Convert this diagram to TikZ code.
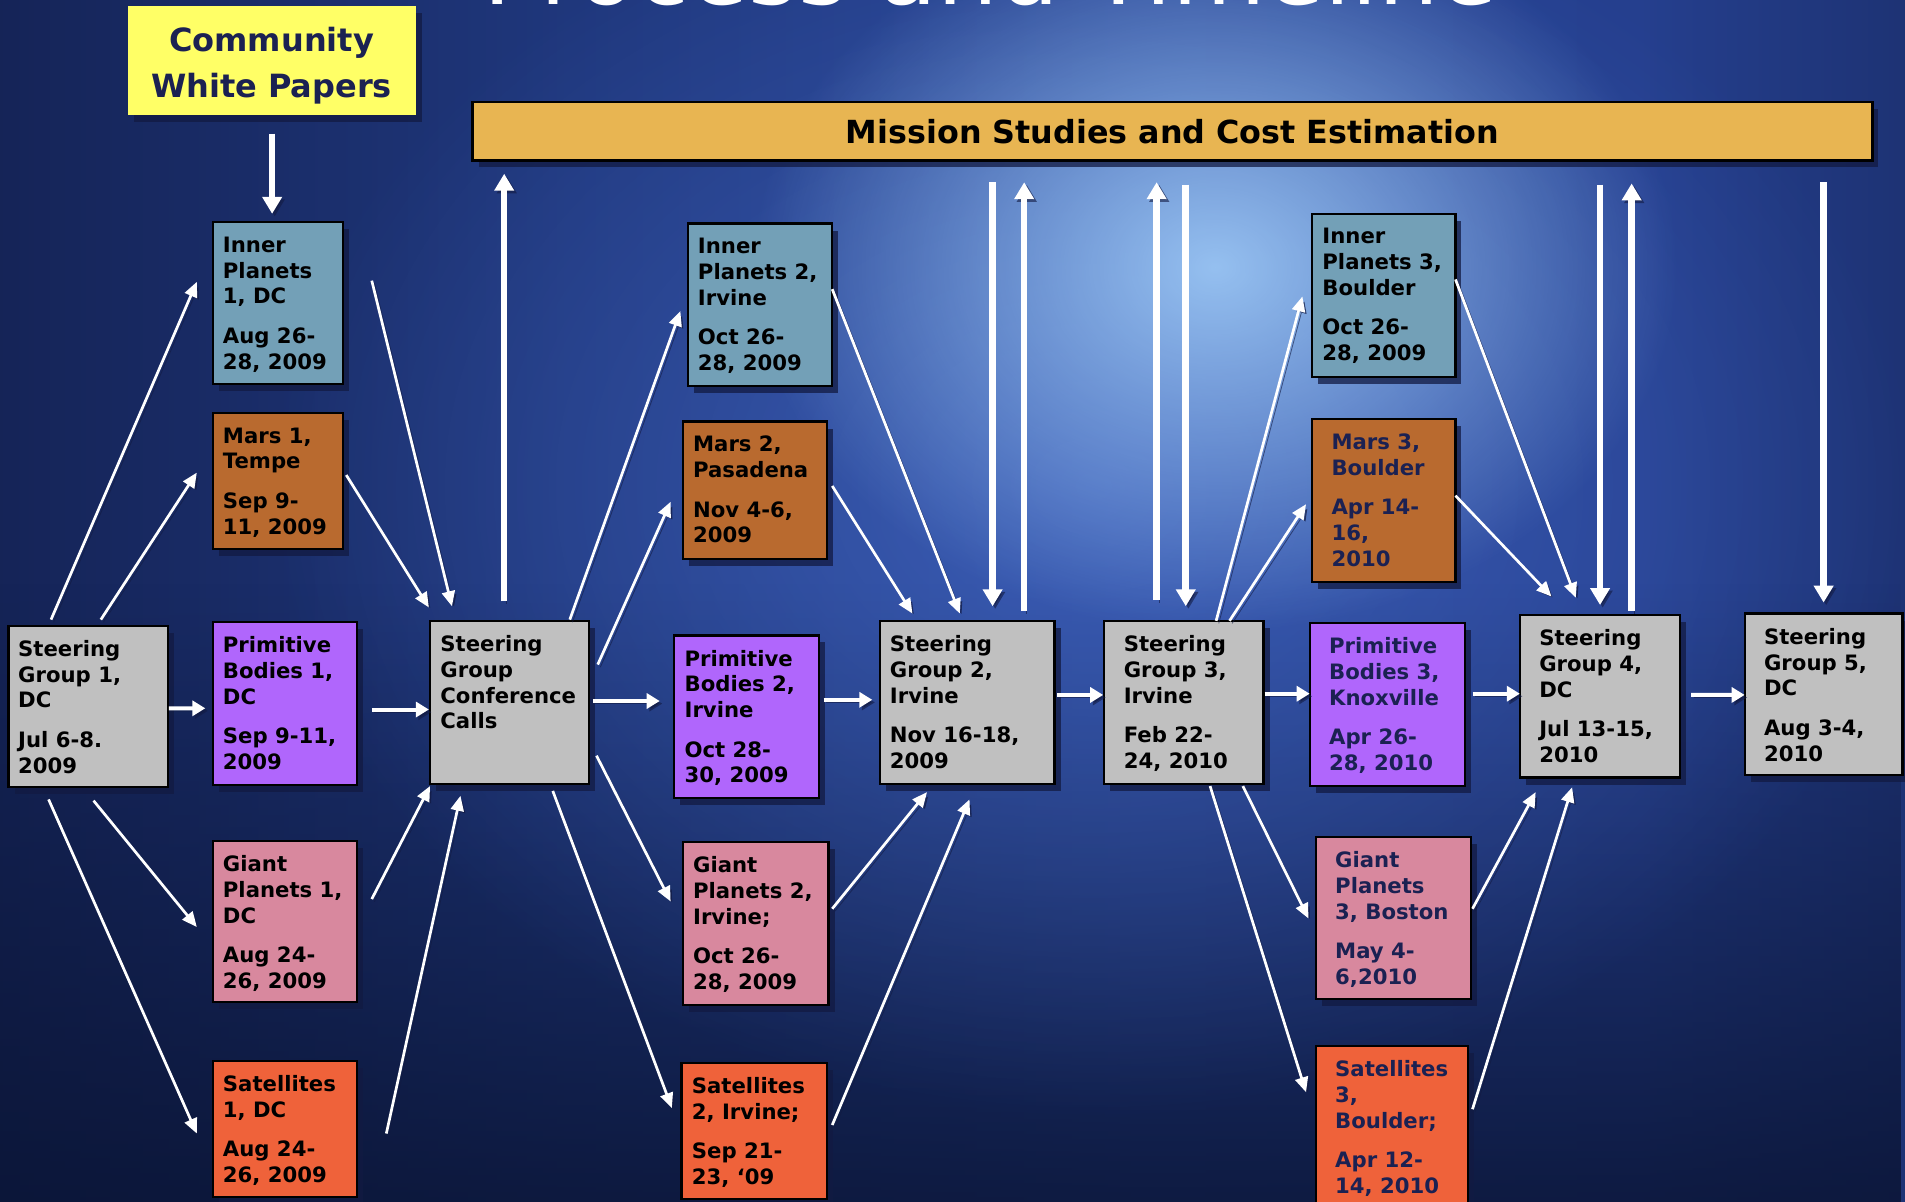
\documentclass[tikz,border=0pt]{standalone}
\usepackage{fontspec}
\setmainfont{DejaVu Sans}
\usetikzlibrary{arrows.meta,shadows,fit,calc,fadings}

\definecolor{ipc}{HTML}{73A0B7}
\definecolor{marsc}{HTML}{B96A2F}
\definecolor{pbc}{HTML}{B066FC}
\definecolor{gpc}{HTML}{D8889E}
\definecolor{satc}{HTML}{EF623A}
\definecolor{sgc}{HTML}{C0C0C0}
\definecolor{cwpc}{HTML}{FFFF66}
\definecolor{msc}{HTML}{E8B552}
\definecolor{navyc}{HTML}{1B2152}
\definecolor{shadowc}{HTML}{121A42}
\definecolor{bgA}{HTML}{020409}
\definecolor{bgB}{HTML}{050A1E}
\definecolor{bgC}{HTML}{132050}
\definecolor{bgD}{HTML}{1F377C}
\definecolor{bgE}{HTML}{274392}
\definecolor{bgF}{HTML}{253F8E}
\definecolor{bgG}{HTML}{182A62}
\definecolor{bgH}{HTML}{0B1438}
\definecolor{bgI}{HTML}{050A1C}
\definecolor{bgbottom}{HTML}{0A1434}
\definecolor{glowA}{HTML}{4A70D0}
\definecolor{glowB}{HTML}{A0CCF8}

\pgfdeclarehorizontalshading{bgh}{100bp}{color(0bp)=(bgA); color(8bp)=(bgB); color(22bp)=(bgC); color(40bp)=(bgD); color(55bp)=(bgE); color(68bp)=(bgF); color(80bp)=(bgG); color(92bp)=(bgH); color(100bp)=(bgI)}
\tikzfading[name=glowfade, inner color=transparent!0, outer color=transparent!100]

\newcommand\mkbox[9]{%
  \node[box, fill=#2, fit={(#3,#4) (#5,#6)}] (#1) {};
  \node[txt, text=#8, anchor=north west] (#1t) at ($(#1.north west)+(#7,12)$) {#9};
}

\begin{document}
\begin{tikzpicture}[x=0.6075pt,y=-0.6075pt,
  box/.style={draw=black, line width=1.1pt, inner sep=0pt, outer sep=0pt,
    drop shadow={shadow xshift=3pt, shadow yshift=-3.5pt, fill=shadowc, opacity=0.75}},
  txt/.style={inner sep=0pt, outer sep=0pt, align=left,
    font=\fontsize{10.6}{12.9}\selectfont\bfseries},
  arr/.style={draw=white, line width=1.35pt, -{Triangle[width=6.5pt,length=7.5pt]},
    preaction={draw=shadowc, opacity=0.6, transform canvas={shift={(1.3pt,-1.3pt)}}}},
  harr/.style={arr, line width=2pt, -{Triangle[width=7.5pt,length=6.5pt]}},
  varr/.style={arr, line width=3.3pt, -{Triangle[width=9.5pt,length=8.5pt]}}
]
\useasboundingbox (0,0) rectangle (1568,989);

% background
\begin{scope}
  \clip (0,0) rectangle (1568,989);
  \shade[shading=bgh] (0,0) rectangle (1568,989);
  \fill[bgbottom, path fading=north, opacity=0.85] (0,480) rectangle (1568,989);
  \fill[glowA, path fading=glowfade, opacity=0.6] (900,400) ellipse [x radius=680, y radius=520];
  \fill[glowB, path fading=glowfade, opacity=0.9] (1000,220) ellipse [x radius=380, y radius=300];
  % cut-off title
  \node[anchor=base west, inner sep=0pt, text=white, font=\fontsize{48}{50}\selectfont] (title) at (398,4) {Process and Timeline};
\end{scope}

% top boxes
\node[fill=cwpc, inner sep=0pt, outer sep=0pt, fit={(105,5) (342,95)},
  drop shadow={shadow xshift=3pt, shadow yshift=-3.5pt, fill=shadowc, opacity=0.75}] (cwp) {};
\node[align=center, text=navyc, inner sep=0pt, font=\fontsize{16}{23.4}\selectfont\bfseries] (cwpt)
  at ($(cwp.center)+(0,4)$) {Community\\White Papers};
\node[fill=msc, draw=black, line width=1.3pt, inner sep=0pt, outer sep=0pt, fit={(389,84) (1541,132)},
  drop shadow={shadow xshift=3pt, shadow yshift=-3.5pt, fill=shadowc, opacity=0.75}] (ms) {};
\node[inner sep=0pt, font=\fontsize{15.9}{18}\selectfont\bfseries] (mst) at (ms.center) {Mission Studies and Cost Estimation};

% boxes
\mkbox{sg1}{sgc}{7}{515}{138}{648}{8}{black}{Steering\\Group 1,\\DC\\[6.8pt]Jul 6-8.\\2009}
\mkbox{ip1}{ipc}{175}{183}{282}{316}{8.5}{black}{Inner\\Planets\\1, DC\\[6.8pt]Aug 26-\\28, 2009}
\mkbox{mars1}{marsc}{175}{340}{282}{452}{8.5}{black}{Mars 1,\\Tempe\\[6.8pt]Sep 9-\\11, 2009}
\mkbox{pb1}{pbc}{175}{512}{294}{646}{8.5}{black}{Primitive\\Bodies 1,\\DC\\[6.8pt]Sep 9-11,\\2009}
\mkbox{gp1}{gpc}{175}{692}{294}{825}{8.5}{black}{Giant\\Planets 1,\\DC\\[6.8pt]Aug 24-\\26, 2009}
\mkbox{sat1}{satc}{175}{873}{294}{985}{8.5}{black}{Satellites\\1, DC\\[6.8pt]Aug 24-\\26, 2009}
\mkbox{sgcc}{sgc}{354}{511}{485}{645}{8.5}{black}{Steering\\Group\\Conference\\Calls}
\mkbox{ip2}{ipc}{566}{184}{685}{318}{8.5}{black}{Inner\\Planets 2,\\Irvine\\[6.8pt]Oct 26-\\28, 2009}
\mkbox{mars2}{marsc}{562}{347}{681}{460}{8.5}{black}{Mars 2,\\Pasadena\\[6.8pt]Nov 4-6,\\2009}
\mkbox{pb2}{pbc}{555}{523}{674}{657}{8.5}{black}{Primitive\\Bodies 2,\\Irvine\\[6.8pt]Oct 28-\\30, 2009}
\mkbox{gp2}{gpc}{562}{693}{682}{827}{8.5}{black}{Giant\\Planets 2,\\Irvine;\\[6.8pt]Oct 26-\\28, 2009}
\mkbox{sat2}{satc}{561}{875}{681}{987}{8.5}{black}{Satellites\\2, Irvine;\\[6.8pt]Sep 21-\\23, ‘09}
\mkbox{sg2}{sgc}{724}{511}{868}{645}{8.5}{black}{Steering\\Group 2,\\Irvine\\[6.8pt]Nov 16-18,\\2009}
\mkbox{sg3}{sgc}{909}{511}{1040}{645}{16}{black}{Steering\\Group 3,\\Irvine\\[6.8pt]Feb 22-\\24, 2010}
\mkbox{ip3}{ipc}{1080}{176}{1198}{310}{8.5}{black}{Inner\\Planets 3,\\Boulder\\[6.8pt]Oct 26-\\28, 2009}
\mkbox{mars3}{marsc}{1080}{345}{1198}{479}{16}{navyc}{Mars 3,\\Boulder\\[6.8pt]Apr 14-\\16,\\2010}
\mkbox{pb3}{pbc}{1078}{513}{1206}{647}{16}{navyc}{Primitive\\Bodies 3,\\Knoxville\\[6.8pt]Apr 26-\\28, 2010}
\mkbox{gp3}{gpc}{1083}{689}{1211}{822}{16}{navyc}{Giant\\Planets\\3, Boston\\[6.8pt]May 4-\\6,2010}
\mkbox{sat3}{satc}{1083}{861}{1208}{1010}{16}{navyc}{Satellites\\3,\\Boulder;\\[6.8pt]Apr 12-\\14, 2010}
\mkbox{sg4}{sgc}{1251}{506}{1383}{640}{16}{black}{Steering\\Group 4,\\DC\\[6.8pt]Jul 13-15,\\2010}
\mkbox{sg5}{sgc}{1436}{505}{1566}{638}{16}{black}{Steering\\Group 5,\\DC\\[6.8pt]Aug 3-4,\\2010}

% arrows
\draw[varr] ($(cwp.north west)+(119,105)$) -- ($(ip1.north west)+(49,-7)$);
\draw[arr] ($(sg1.north west)+(35,-5)$) -- ($(ip1.north west)+(-13,49)$);
\draw[arr] ($(sg1.north west)+(76,-5)$) -- ($(mars1.north west)+(-13,49)$);
\draw[harr] ($(sg1.north west)+(132,68)$) -- ($(pb1.north west)+(-6,71)$);
\draw[arr] ($(sg1.north west)+(70,144)$) -- ($(gp1.north west)+(-13,71)$);
\draw[arr] ($(sg1.north west)+(33,143)$) -- ($(sat1.north west)+(-13,60)$);

\draw[arr] ($(ip1.north west)+(131,48)$) -- ($(sgcc.north west)+(18,-12)$);
\draw[arr] ($(mars1.north west)+(110,51)$) -- ($(sgcc.north west)+(-1,-11)$);
\draw[harr] ($(pb1.north west)+(131,72)$) -- ($(sgcc.north west)+(-1,73)$);
\draw[arr] ($(gp1.north west)+(131,48)$) -- ($(sgcc.north west)+(0,136)$);
\draw[arr] ($(sat1.north west)+(143,60)$) -- ($(sgcc.north west)+(25,144)$);

\draw[varr] ($(sgcc.north west)+(61,-16)$) -- ($(ms.north west)+(26,59)$);
\draw[arr] ($(sgcc.north west)+(115,-1)$) -- ($(ip2.north west)+(-6,72)$);
\draw[arr] ($(sgcc.north west)+(138,36)$) -- ($(mars2.north west)+(-10,66)$);
\draw[harr] ($(sgcc.north west)+(134,66)$) -- ($(pb2.north west)+(-12,54)$);
\draw[arr] ($(sgcc.north west)+(137,111)$) -- ($(gp2.north west)+(-10,49)$);
\draw[arr] ($(sgcc.north west)+(101,140)$) -- ($(sat2.north west)+(-8,37)$);

\draw[arr] ($(ip2.north west)+(119,54)$) -- ($(sg2.north west)+(66,-6)$);
\draw[arr] ($(mars2.north west)+(123,53)$) -- ($(sg2.north west)+(27,-6)$);
\draw[harr] ($(pb2.north west)+(123,53)$) -- ($(sg2.north west)+(-6,65)$);
\draw[arr] ($(gp2.north west)+(123,55)$) -- ($(sg2.north west)+(39,141)$);
\draw[arr] ($(sat2.north west)+(124,51)$) -- ($(sg2.north west)+(74,147)$);

\draw[varr] ($(ms.north west)+(428,66)$) -- ($(sg2.north west)+(93,-12)$);
\draw[varr] ($(sg2.north west)+(119,-8)$) -- ($(ms.north west)+(454,66)$);
\draw[harr] ($(sg2.north west)+(146,61)$) -- ($(sg3.north west)+(-1,61)$);
\draw[varr] ($(sg3.north west)+(43,-17)$) -- ($(ms.north west)+(563,66)$);
\draw[varr] ($(ms.north west)+(587,68)$) -- ($(sg3.north west)+(67,-12)$);

\draw[arr] ($(sg3.north west)+(92,0)$) -- ($(ip3.north west)+(-8,68)$);
\draw[arr] ($(sg3.north west)+(103,0)$) -- ($(mars3.north west)+(-5,70)$);
\draw[harr] ($(sg3.north west)+(132,60)$) -- ($(pb3.north west)+(0,58)$);
\draw[arr] ($(sg3.north west)+(114,136)$) -- ($(gp3.north west)+(-6,67)$);
\draw[arr] ($(sg3.north west)+(87,136)$) -- ($(sat3.north west)+(-8,38)$);

\draw[arr] ($(ip3.north west)+(118,54)$) -- ($(sg4.north west)+(46,-14)$);
\draw[arr] ($(mars3.north west)+(118,63)$) -- ($(sg4.north west)+(26,-15)$);
\draw[harr] ($(pb3.north west)+(134,58)$) -- ($(sg4.north west)+(0,65)$);
\draw[arr] ($(gp3.north west)+(129,59)$) -- ($(sg4.north west)+(13,146)$);
\draw[arr] ($(sat3.north west)+(129,52)$) -- ($(sg4.north west)+(43,142)$);

\draw[varr] ($(ms.north west)+(928,68)$) -- ($(sg4.north west)+(66,-8)$);
\draw[varr] ($(sg4.north west)+(92,-3)$) -- ($(ms.north west)+(954,67)$);
\draw[harr] ($(sg4.north west)+(141,66)$) -- ($(sg5.north west)+(0,67)$);
\draw[varr] ($(ms.north west)+(1112,66)$) -- ($(sg5.north west)+(65,-9)$);
\end{tikzpicture}
\end{document}
